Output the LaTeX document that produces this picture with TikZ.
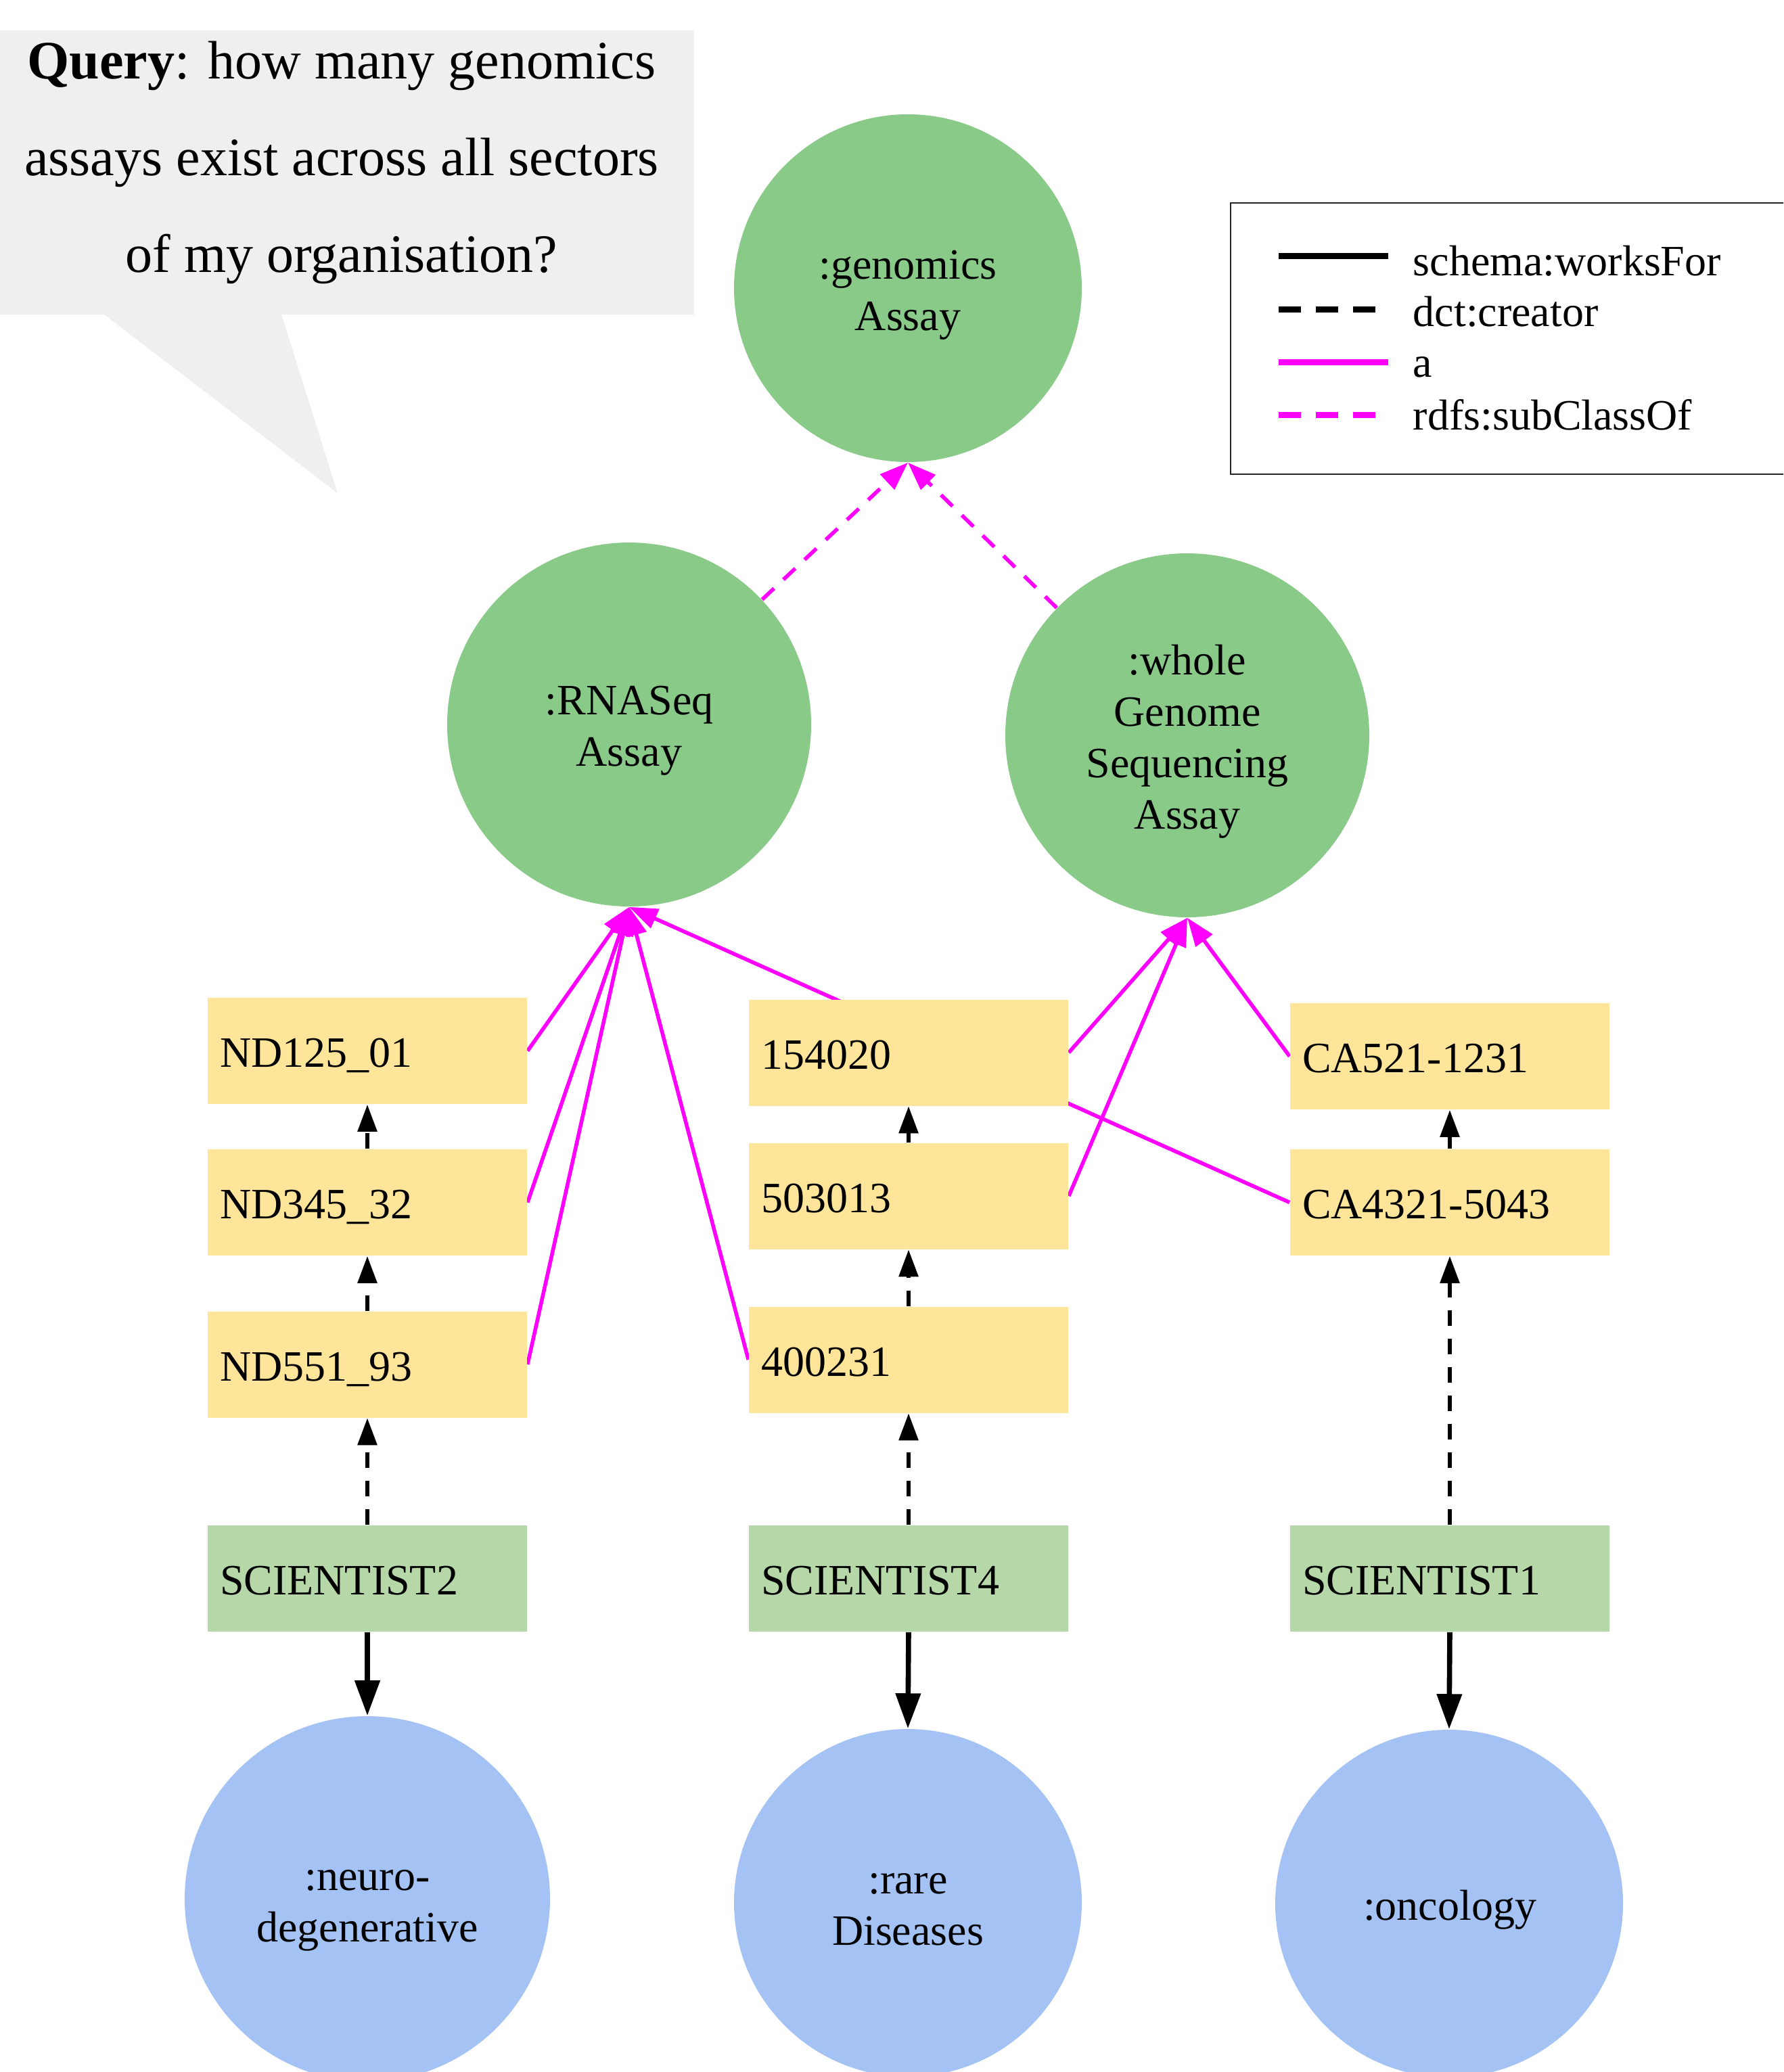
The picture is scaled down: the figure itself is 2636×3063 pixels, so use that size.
\documentclass[tikz,border=0pt]{standalone}
\usepackage{fontspec}
\setmainfont{Liberation Serif}
\usetikzlibrary{arrows.meta}
\definecolor{calloutgray}{HTML}{EFEFEF}
\definecolor{classgreen}{HTML}{89CA89}
\definecolor{sectorblue}{HTML}{A4C2F4}
\definecolor{assayyellow}{HTML}{FFE599}
\definecolor{personGreen}{HTML}{B6D7A8}
\definecolor{pinkline}{HTML}{FF00FF}
\pgfdeclarelayer{edgelayer}
\pgfsetlayers{edgelayer,main}
\begin{document}
\begin{tikzpicture}[x=0.25pt,y=-0.25pt,
  classnode/.style={circle, fill=classgreen, inner sep=0pt, minimum size=#1},
  sectornode/.style={circle, fill=sectorblue, inner sep=0pt, minimum size=#1},
  circlabel/.style={font=\fontsize{16}{19}\selectfont, align=center, anchor=base, inner sep=0pt},
  boxnode/.style={rectangle, minimum width=118pt, minimum height=39.25pt, inner xsep=4.5pt, inner ysep=0pt,
     text width=109pt, align=left, text height=12pt, text depth=0pt, font=\fontsize{16}{19}\selectfont},
  assaybox/.style={boxnode, fill=assayyellow},
  personbox/.style={boxnode, fill=personGreen},
  worksfor/.style={draw=black, line width=1.9pt, -{Triangle[length=13pt,width=9pt]}},
  creator/.style={draw=black, line width=1.45pt, dash pattern=on 5.75pt off 4.75pt, -{Triangle[length=10pt,width=7pt]}},
  inst/.style={draw=pinkline, line width=1.4pt, -{Triangle[length=10.5pt,width=7.5pt]}},
  subcls/.style={inst, dash pattern=on 6pt off 4.75pt},
  legline/.style={line width=2.25pt},
  legdash/.style={line width=2.25pt, dash pattern=on 8.25pt off 5.5pt},
  legtext/.style={font=\fontsize{16}{19}\selectfont, anchor=base west, inner sep=0pt}
]
\useasboundingbox (0,0) rectangle (2636,3063);
\clip (0,0) rectangle (2636,3063);

% callout
\fill[calloutgray] (0,45) -- (1026,45) -- (1026,465) -- (416,465) -- (499,729) -- (154,465) -- (0,465) -- cycle;
\node[font=\fontsize{20}{35.75}\selectfont, align=center, anchor=base, inner sep=0pt] (query) at (505,402)
  {\textbf{Query}: how many genomics\\assays exist across all sectors\\of my organisation?};

% legend
\draw[black!85, line width=0.6pt] (1819,300) rectangle (2720,701);
\coordinate (l1a) at (1890,378); \coordinate (l1b) at (2052,378);
\coordinate (l2a) at (1890,457); \coordinate (l2b) at (2052,457);
\coordinate (l3a) at (1890,535); \coordinate (l3b) at (2052,535);
\coordinate (l4a) at (1890,613); \coordinate (l4b) at (2052,613);
\draw[legline, black] (l1a) -- (l1b);
\draw[legdash, black] (l2a) -- (l2b);
\draw[legline, pinkline] (l3a) -- (l3b);
\draw[legdash, pinkline] (l4a) -- (l4b);
\node[legtext] (lt1) at (2088,407) {schema:worksFor};
\node[legtext] (lt2) at (2088,482) {dct:creator};
\node[legtext] (lt3) at (2088,557) {a};
\node[legtext] (lt4) at (2088,635) {rdfs:subClassOf};

% class circles
\node[classnode=128.5pt] (gen) at (1342,426) {};
\node[classnode=134.5pt] (rna) at (930,1071) {};
\node[classnode=134.5pt] (wgs) at (1755,1087) {};
\node[circlabel] (genl) at (1342,488) {:genomics\\Assay};
\node[circlabel] (rnal) at (930,1132) {:RNASeq\\Assay};
\node[circlabel] (wgsl) at (1755,1225) {:whole\\Genome\\Sequencing\\Assay};

% sector circles
\node[sectornode=135pt] (neuro) at (543,2807) {};
\node[sectornode=128.5pt] (rare) at (1342,2813) {};
\node[sectornode=128.5pt] (onc) at (2142,2814) {};
\node[circlabel] (neurol) at (543,2870) {:neuro-\\degenerative};
\node[circlabel] (rarel) at (1342,2875) {:rare\\Diseases};
\node[circlabel] (oncl) at (2143,2838) {:oncology};

% assays
\node[assaybox] (nd1) at (543,1553.5) {ND125\_01};
\node[assaybox] (nd2) at (543,1777.5) {ND345\_32};
\node[assaybox] (nd3) at (543,2017) {ND551\_93};
\node[assaybox] (r1) at (1343,1556) {154020};
\node[assaybox] (r2) at (1343,1768) {503013};
\node[assaybox] (r3) at (1343,2010) {400231};
\node[assaybox] (c1) at (2143,1561.5) {CA521-1231};
\node[assaybox] (c2) at (2143,1777.5) {CA4321-5043};

% scientists
\node[personbox] (s2) at (543,2333.5) {SCIENTIST2};
\node[personbox] (s4) at (1343,2333.5) {SCIENTIST4};
\node[personbox] (s1) at (2143,2333.5) {SCIENTIST1};

\begin{pgfonlayer}{edgelayer}
% schema:worksFor
\draw[worksfor] (s2.south) -- (neuro.north);
\draw[worksfor] (s4.south) -- (rare.north);
\draw[worksfor] (s1.south) -- (onc.north);
% dct:creator
\draw[creator] (s2.north) -- (nd3.south);
\draw[creator] (nd3.north) -- (nd2.south);
\draw[creator] (nd2.north) -- (nd1.south);
\draw[creator] (s4.north) -- (r3.south);
\draw[creator] (r3.north) -- (r2.south);
\draw[creator] (r2.north) -- (r1.south);
\draw[creator] (s1.north) -- (c2.south);
\draw[creator] (c2.north) -- (c1.south);
% a
\draw[inst] (nd1.east) -- (rna.south);
\draw[inst] (nd2.east) -- (rna.south);
\draw[inst] (nd3.east) -- (rna.south);
\draw[inst] (r3.west) -- (rna.south);
\draw[inst] (c2.west) -- (rna.south);
\draw[inst] (r1.east) -- (wgs.south);
\draw[inst] (r2.east) -- (wgs.south);
\draw[inst] (c1.west) -- (wgs.south);
% rdfs:subClassOf
\draw[subcls] (rna) -- (gen.south);
\draw[subcls] (wgs) -- (gen.south);
\end{pgfonlayer}
\end{tikzpicture}
\end{document}
